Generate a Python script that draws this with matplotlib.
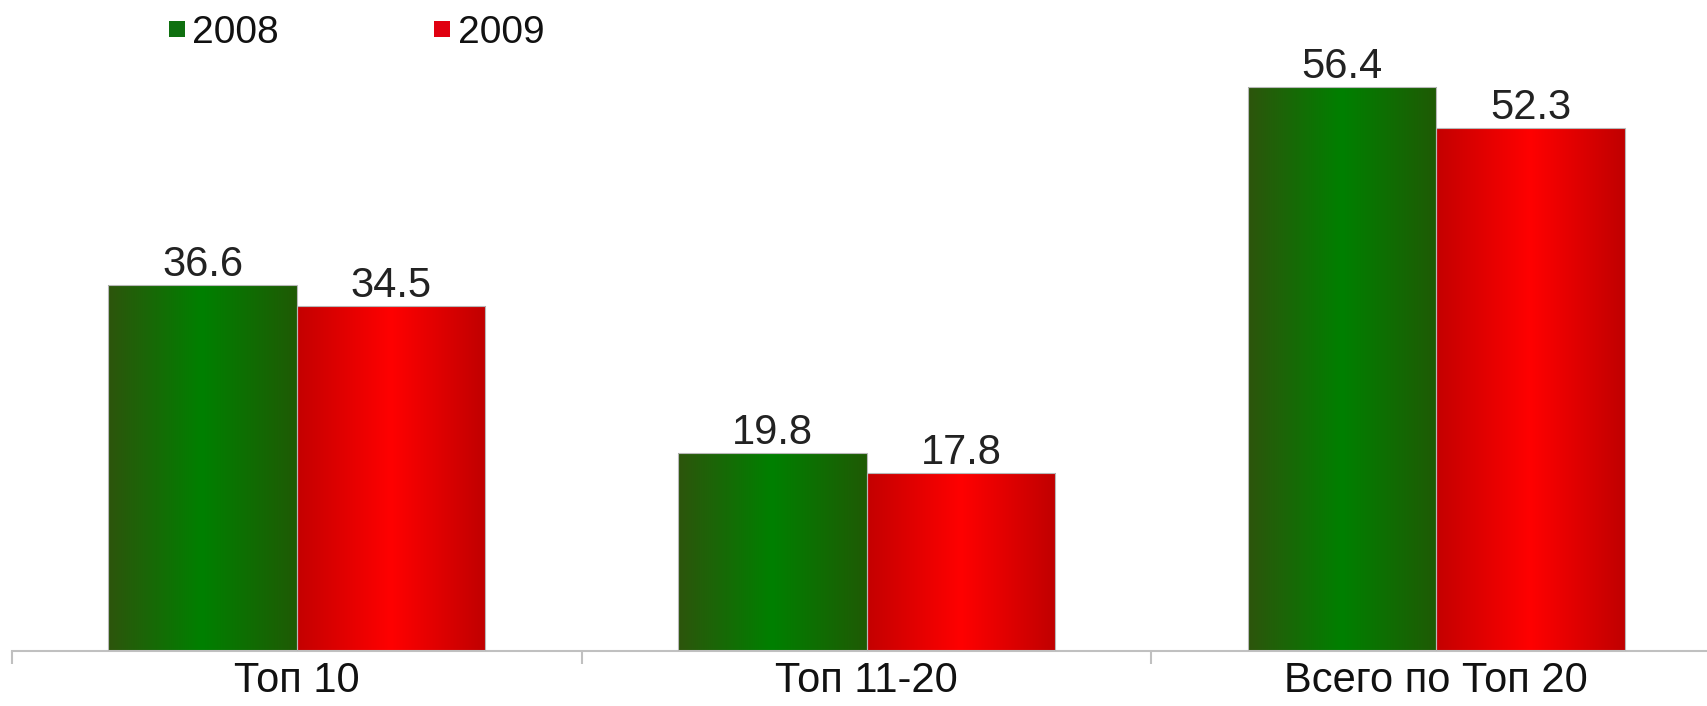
import numpy as np
import matplotlib
matplotlib.use("Agg")
import matplotlib.pyplot as plt
from matplotlib.colors import LinearSegmentedColormap
from matplotlib.patches import Rectangle

categories = ["Топ 10", "Топ 11-20", "Всего по Топ 20"]
series_names = ["2008", "2009"]
values_2008 = [36.6, 19.8, 56.4]
values_2009 = [34.5, 17.8, 52.3]

plt.rcParams['font.family'] = ['Liberation Sans', 'DejaVu Sans']

fig = plt.figure(figsize=(17.07, 7.06), dpi=100)
W, H = 1707, 706
ax = fig.add_axes([12 / W, 55 / H, (W - 12) / W, 600 / H])

grad = {
    "2008": ["#2d550c", "#008000", "#1f5a05"],
    "2009": ["#c40000", "#ff0000", "#c00000"],
}
legend_colors = {"2008": "#0f7010", "2009": "#e00010"}

width = 0.331
x = np.arange(len(categories))
for k, (name, vals) in enumerate(zip(series_names, [values_2008, values_2009])):
    cmap = LinearSegmentedColormap.from_list(name, grad[name])
    offs = (k - 0.5) * width
    for xi, v in zip(x, vals):
        x0 = xi + offs - width / 2
        x1 = xi + offs + width / 2
        g = np.linspace(0, 1, 256)[None, :]
        ax.imshow(g, cmap=cmap, extent=(x0, x1, 0, v), aspect='auto',
                  interpolation='bicubic', zorder=2)
        ax.bar(xi + offs, v, width=width, facecolor='none',
               edgecolor='#b8b8b8', linewidth=0.8, zorder=3)
        ax.text(xi + offs, v + 0.9, f"{v:.1f}", ha='center', va='baseline',
                fontsize=30, color='#222222', zorder=4)

ax.set_xlim(-0.5, 2.475)
ax.set_ylim(0, 60)
for s in ['top', 'right', 'left']:
    ax.spines[s].set_visible(False)
ax.spines['bottom'].set_color('#c0c0c0')
ax.spines['bottom'].set_linewidth(1.5)
ax.set_yticks([])
ax.set_xticks(x)
ax.set_xticklabels(categories, fontsize=30, color='#111111')
ax.tick_params(axis='x', which='major', length=0, pad=7)
ax.set_xticks([-0.5, 0.5, 1.5], minor=True)
ax.tick_params(axis='x', which='minor', length=9, width=1.5, color='#c0c0c0')

# legend
leg_items = [(169, 192), (434, 458)]
for (sx, tx), name in zip(leg_items, series_names):
    fig.patches.append(Rectangle((sx / W, 1 - 37 / H), 16 / W, 16 / H,
                                 transform=fig.transFigure,
                                 facecolor=legend_colors[name], edgecolor='none'))
    fig.text(tx / W, 1 - 43 / H, name, ha='left', va='baseline',
             fontsize=28, color='#111111')

fig.savefig("out.png", dpi=100)
